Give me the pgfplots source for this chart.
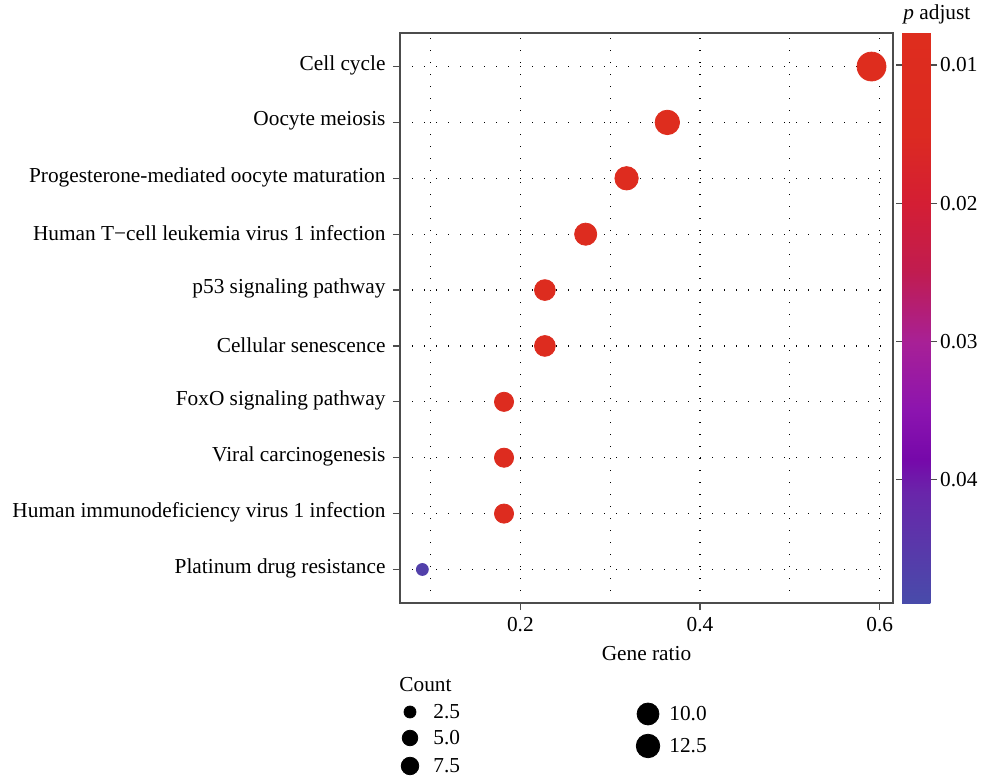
\documentclass[border=0pt]{standalone}
\usepackage{fontspec}
\setmainfont{Liberation Serif}
\usepackage{pgfplots}
\pgfplotsset{compat=1.18}
\usepackage{pgfplotstable}

\pgfplotstableread{
x y count padj r
0.5909 10 13 0.0080 7.25
0.3636 9 8 0.0085 6.15
0.3182 8 7 0.0090 5.87
0.2727 7 6 0.0095 5.56
0.2273 6 5 0.0100 5.22
0.2273 5 5 0.0100 5.22
0.1818 4 4 0.0105 4.81
0.1818 3 4 0.0105 4.81
0.1818 2 4 0.0105 4.81
0.0909 1 2 0.0465 3.00
}\datatable

\pgfplotstableread{
lx ly r
410 -712 3.0
410 -738 3.9
410 -766 4.4
648 -714 5.5
648 -746 5.9
}\legtable

% colormap along -padj (blue = large p adjust, red = small p adjust)
\pgfplotsset{
  colormap={padjrev}{
    rgb255(0)=(72,75,170)
    rgb255(791)=(105,38,170)
    rgb255(1041)=(118,8,170)
    rgb255(1391)=(140,20,175)
    rgb255(1891)=(168,32,150)
    rgb255(2391)=(192,28,80)
    rgb255(2891)=(212,30,52)
    rgb255(3391)=(220,42,33)
    rgb255(4130)=(222,45,30)
  },
  dotgrid/.style={black, line width=0.6bp, dash pattern=on 0.6bp off 5.4bp},
}

\begin{document}
\fontsize{10.7}{12.8}\selectfont
\begin{tikzpicture}
\path[use as bounding box] (0,0) rectangle (490.5bp,-390bp);

\begin{axis}[
  at={(200bp,-301.5bp)}, anchor=south west,
  scale only axis, width=246.5bp, height=285bp,
  xmin=0.066, xmax=0.6148, ymin=0.4, ymax=10.6,
  xtick={0.2,0.4,0.6}, minor xtick={0.1,0.3,0.5},
  xticklabels={0.2,0.4,0.6},
  ytick={1,...,10},
  yticklabels={Platinum drug resistance, Human immunodeficiency virus 1 infection, Viral carcinogenesis, FoxO signaling pathway, Cellular senescence, p53 signaling pathway, Human T−cell leukemia virus 1 infection, Progesterone-mediated oocyte maturation, Oocyte meiosis, Cell cycle},
  yticklabel style={yshift=0.6bp},
  grid=both,
  major grid style={dotgrid},
  minor grid style={dotgrid},
  minor tick length=0pt,
  major tick length=3.5bp,
  tick align=outside,
  xtick pos=bottom, ytick pos=left,
  tick style={black!70, line width=0.6bp},
  axis line style={black!70, line width=0.6bp},
  xlabel={Gene ratio},
  /pgf/number format/assume math mode=true,
  colormap name=padjrev,
  point meta min=-0.04891, point meta max=-0.00761,
  colorbar,
  colorbar style={
    at={(parent axis.north east)}, anchor=north west, xshift=-4.0bp, yshift=0.5bp,
    scale only axis, width=14.5bp, height=285.5bp,
    axis line style={draw=none},
    ytick={-0.04,-0.03,-0.02,-0.01},
    scaled y ticks=false,
    yticklabel={\pgfmathparse{-\tick}\pgfmathprintnumber[fixed,fixed zerofill,precision=2]{\pgfmathresult}},
    yticklabel style={xshift=-2.2bp},
    /pgf/number format/assume math mode=true,
    tick style={black!70, line width=0.6bp},
    major tick length=3bp, tick align=outside,
  },
]
\addplot[scatter, only marks, mark=*,
  point meta={-\thisrow{padj}},
  scatter/use mapped color={draw=mapped color, fill=mapped color},
  visualization depends on={\thisrow{r}\as\rad},
  scatter/@pre marker code/.append style={/tikz/mark size=\rad}]
  table[x=x, y=y] \datatable;
\end{axis}

\begin{axis}[
  at={(0,0)}, anchor=north west,
  scale only axis, width=490.5bp, height=390bp,
  xmin=0, xmax=981, ymin=-780, ymax=0,
  hide axis, clip=false,
]
\addplot[scatter, only marks, mark=*,
  point meta=explicit,
  scatter/use mapped color={draw=black, fill=black},
  visualization depends on={\thisrow{r}\as\rad},
  scatter/@pre marker code/.append style={/tikz/mark size=\rad}]
  table[x=lx, y=ly, meta=r] \legtable;
\node[anchor=west, inner sep=0pt] at (axis cs:399,-685) {Count};
\node[anchor=west, inner sep=0pt] at (axis cs:433,-712) {2.5};
\node[anchor=west, inner sep=0pt] at (axis cs:433,-738) {5.0};
\node[anchor=west, inner sep=0pt] at (axis cs:433,-766) {7.5};
\node[anchor=west, inner sep=0pt] at (axis cs:669,-714) {10.0};
\node[anchor=west, inner sep=0pt] at (axis cs:669,-746) {12.5};
\node[anchor=west, inner sep=0pt] at (axis cs:903,-14) {\textit{p} adjust};
\end{axis}
\end{tikzpicture}
\end{document}
